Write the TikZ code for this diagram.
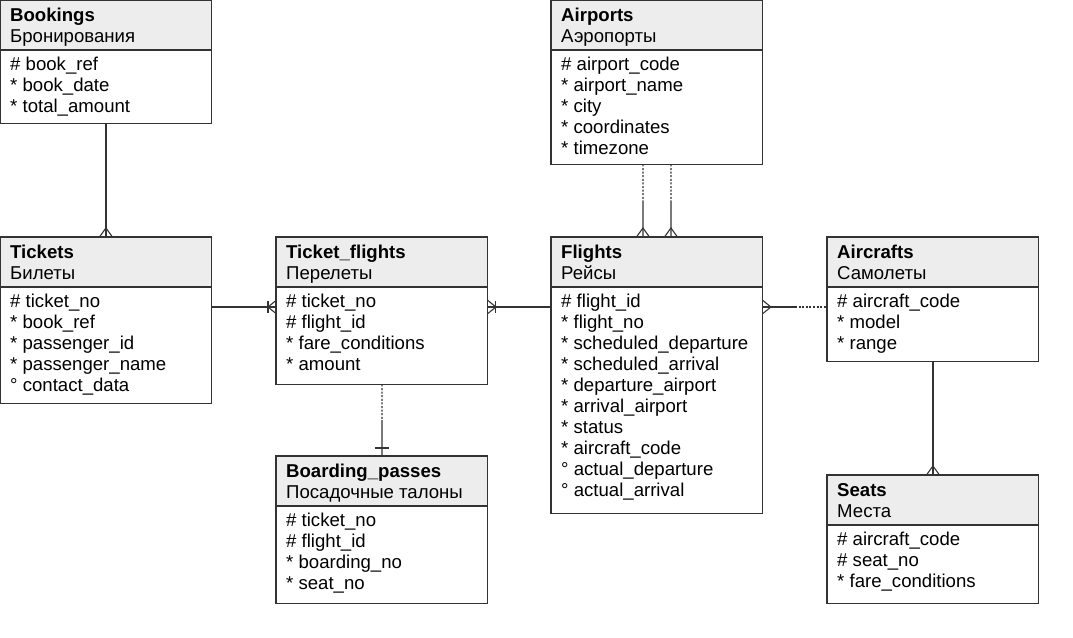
\documentclass[tikz,border=0pt]{standalone}
\usepackage{fontspec}
\setmainfont{Liberation Sans}
\usetikzlibrary{calc}
\definecolor{hdrgray}{HTML}{EDEDED}
\definecolor{linegray}{HTML}{333333}
\tikzset{
  ebox/.style={draw=none, inner sep=0pt, minimum width=211.5pt},
  boxline/.style={draw=linegray, line width=1.1pt},
  hdrfill/.style={fill=hdrgray},
  ttl/.style={anchor=base west, inner sep=0pt, font=\fontsize{18.6}{21}\selectfont\bfseries},
  sub/.style={anchor=base west, inner sep=0pt, font=\fontsize{18.6}{21}\selectfont},
  attr/.style={anchor=base west, inner sep=0pt, font=\fontsize{18.6}{21}\selectfont},
  conn/.style={draw=linegray, line width=1.1pt},
  dconn/.style={draw=linegray, line width=1.1pt, dash pattern=on 2pt off 1.6pt},
}
\newcommand{\erentity}[7]{%
  \node[ebox, minimum height=#4pt, anchor=north west] (#1) at (#2,#3) {};
  \fill[hdrfill] (#1.north west) rectangle ([yshift=-50pt]#1.north east);
  \draw[boxline] (#1.north west) rectangle (#1.south east);
  \draw[boxline] ([yshift=-50pt]#1.north west) -- ([yshift=-50pt]#1.north east);
  \node[ttl] (#1-t) at ([xshift=10pt,yshift=-21pt]#1.north west) {#5};
  \node[sub] (#1-s) at ([xshift=10pt,yshift=-42pt]#1.north west) {#6};
  \foreach \a [count=\i from 0] in {#7}
    \node[attr] (#1-a\i) at ([xshift=10pt,yshift={-(70+21*\i)}]#1.north west) {\a};
}
% crow's foot with toes on a box top (line from above)
\newcommand{\foottop}[1]{\draw[conn] ([xshift=-6.5pt]#1) -- ([yshift=9pt]#1) -- ([xshift=6.5pt]#1);}
% crow's foot with toes on a box west side (line from the left)
\newcommand{\footwest}[1]{\draw[conn] ([yshift=6.5pt]#1) -- ([xshift=-8pt]#1) -- ([yshift=-6.5pt]#1);}
% crow's foot with toes on a box east side (line from the right)
\newcommand{\footeast}[1]{\draw[conn] ([yshift=6.5pt]#1) -- ([xshift=8pt]#1) -- ([yshift=-6.5pt]#1);}
\begin{document}
\begin{tikzpicture}[x=1pt,y=-1pt]
\useasboundingbox (0,0) rectangle (1073,637);
\fill[white] (0,0) rectangle (1073,637);

\erentity{bookings}{0}{0}{123}{Bookings}{Бронирования}{\# book\_ref,* book\_date,* total\_amount}
\erentity{airports}{551}{0}{164}{Airports}{Аэропорты}{\# airport\_code,* airport\_name,* city,* coordinates,* timezone}
\erentity{tickets}{0}{237}{166}{Tickets}{Билеты}{\# ticket\_no,* book\_ref,* passenger\_id,* passenger\_name,° contact\_data}
\erentity{tflights}{276}{237}{147}{Ticket\_flights}{Перелеты}{\# ticket\_no,\# flight\_id,* fare\_conditions,* amount}
\erentity{flights}{551}{237}{276}{Flights}{Рейсы}{\# flight\_id,* flight\_no,* scheduled\_departure,* scheduled\_arrival,* departure\_airport,* arrival\_airport,* status,* aircraft\_code,° actual\_departure,° actual\_arrival}
\erentity{aircrafts}{827}{237}{124}{Aircrafts}{Самолеты}{\# aircraft\_code,* model,* range}
\erentity{bpasses}{276}{456}{147}{Boarding\_passes}{Посадочные талоны}{\# ticket\_no,\# flight\_id,* boarding\_no,* seat\_no}
\erentity{seats}{827}{475}{128}{Seats}{Места}{\# aircraft\_code,\# seat\_no,* fare\_conditions}

% Bookings -- Tickets
\draw[conn] (bookings.south) -- (tickets.north);
\foottop{tickets.north}

% Tickets -- Ticket_flights
\coordinate (tfw) at ([yshift=-70pt]tflights.north west);
\draw[conn] (tickets.east |- tfw) -- (tfw);
\footwest{tfw}
\draw[conn] ([xshift=-8pt,yshift=6pt]tfw) -- ([xshift=-8pt,yshift=-6pt]tfw);

% Ticket_flights -- Flights
\coordinate (tfe) at ([yshift=-70pt]tflights.north east);
\draw[conn] (tfe) -- (flights.west |- tfe);
\footeast{tfe}
\draw[conn] ([xshift=8pt,yshift=6pt]tfe) -- ([xshift=8pt,yshift=-6pt]tfe);

% Airports -- Flights (two)
\coordinate (aps1) at ([xshift=-14pt]airports.south);
\coordinate (fln1) at ([xshift=-14pt]flights.north);
\coordinate (aps2) at ([xshift=14pt]airports.south);
\coordinate (fln2) at ([xshift=14pt]flights.north);
\draw[dconn] (aps1) -- ($(aps1)!0.5!(fln1)$);
\draw[conn] ($(aps1)!0.5!(fln1)$) -- (fln1);
\draw[dconn] (aps2) -- ($(aps2)!0.5!(fln2)$);
\draw[conn] ($(aps2)!0.5!(fln2)$) -- (fln2);
\foottop{fln1}
\foottop{fln2}

% Flights -- Aircrafts
\coordinate (fle) at ([yshift=-70pt]flights.north east);
\coordinate (acw) at ([yshift=-70pt]aircrafts.north west);
\draw[conn] (fle) -- ($(fle)!0.5!(acw)$);
\draw[dconn] ($(fle)!0.5!(acw)$) -- (acw);
\footeast{fle}

% Ticket_flights -- Boarding_passes
\draw[dconn] (tflights.south) -- ($(tflights.south)!0.5!(bpasses.north)$);
\draw[conn] ($(tflights.south)!0.5!(bpasses.north)$) -- (bpasses.north);
\draw[conn] ([xshift=-7pt,yshift=8pt]bpasses.north) -- ([xshift=7pt,yshift=8pt]bpasses.north);

% Aircrafts -- Seats
\draw[conn] (aircrafts.south) -- (seats.north);
\foottop{seats.north}
\end{tikzpicture}
\end{document}
